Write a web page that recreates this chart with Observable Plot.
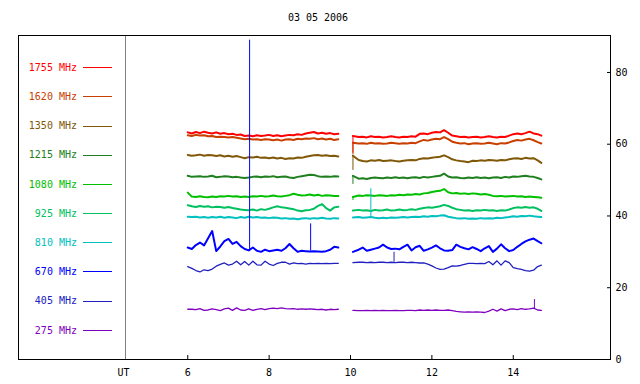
<!DOCTYPE html>
<html><head><meta charset="utf-8">
<script src="https://cdn.jsdelivr.net/npm/d3@7"></script>
<script src="https://cdn.jsdelivr.net/npm/@observablehq/plot@0.6"></script>
<style>
body{margin:0;background:#fff;}
#wrap{position:relative;width:640px;height:384px;font-family:"DejaVu Sans Mono",monospace;font-size:10px;overflow:hidden;}
#wrap svg{position:absolute;left:0;top:0;}
#title{position:absolute;top:12px;left:0;width:636px;text-align:center;line-height:12px;}
#legendbox{position:absolute;left:18px;top:35px;width:108px;height:325px;box-sizing:border-box;border:1px solid #000;border-right:none;}
.lt{position:absolute;left:0;width:77px;text-align:right;line-height:12px;white-space:pre;}
.ll{position:absolute;left:83px;width:29px;height:1px;}
</style></head>
<body>
<div id="wrap">
  <div id="legendbox"></div>
  <div id="title"></div>
</div>
<script>
const title = "03 05 2006";
const freqs = [1755, 1620, 1350, 1215, 1080, 925, 810, 670, 405, 275];
const colors = ["#ff0000", "#c84000", "#805808", "#208020", "#00c000", "#00c060", "#00c0c0", "#0000ff", "#2020c0", "#8000c0"];
const xTicks = [6, 8, 10, 12, 14];
const yTicks = [0, 20, 40, 60, 80];
const xDomain = [4.47, 16.39];
const yDomain = [0, 90.3];

const t1 = [6.0,6.1,6.2,6.3,6.4,6.5,6.6,6.7,6.8,6.9,
            7.0,7.1,7.2,7.3,7.4,7.5,7.6,7.7,7.8,7.9,
            8.0,8.1,8.2,8.3,8.4,8.5,8.6,8.7,8.8,8.9,
            9.0,9.1,9.2,9.3,9.4,9.5,9.6,9.7];
const t2 = [10.06,10.2,10.3,10.4,10.5,10.6,10.7,10.8,10.9,
            11.0,11.1,11.2,11.3,11.4,11.5,11.6,11.7,11.8,11.9,
            12.0,12.1,12.2,12.3,12.4,12.5,12.6,12.7,12.8,12.9,
            13.0,13.1,13.2,13.3,13.4,13.5,13.6,13.7,13.8,13.9,
            14.0,14.1,14.2,14.3,14.4,14.5,14.6,14.69];

const v1755a = [63.3,63.0,63.4,63.1,63.5,63.2,63.0,63.3,62.9,63.1,
  62.8,62.9,62.6,62.7,62.3,62.4,62.2,62.5,62.3,62.4,
  62.6,62.3,62.5,62.2,62.4,62.6,62.5,62.8,62.6,63.0,
  63.2,63.4,63.0,63.2,62.9,63.1,62.8,62.9];
const v1755b = [62.3,62.0,62.1,61.9,62.2,62.0,62.1,61.9,62.0,
  62.2,62.0,61.9,62.1,62.0,62.2,62.1,62.9,63.0,62.8,
  63.2,63.4,63.3,63.9,63.2,62.4,62.2,62.0,62.1,61.9,
  62.0,62.1,61.9,62.0,62.2,62.0,61.9,62.1,62.0,62.4,
  62.8,63.0,62.8,63.1,63.5,63.0,62.8,62.4];
const v1620a = [62.5,62.3,62.6,62.4,62.5,62.2,62.3,62.0,62.1,62.0,
  61.9,62.0,61.8,61.6,61.4,61.5,61.3,61.4,61.2,61.4,
  61.3,61.1,61.3,61.0,61.3,61.4,61.2,61.5,61.4,61.6,
  61.5,61.7,61.4,61.6,61.3,61.5,61.2,61.4];
const v1620b = [60.4,60.2,60.3,60.1,60.4,60.2,60.3,60.1,60.2,
  60.4,60.3,60.1,60.3,60.2,60.4,60.3,60.8,61.2,61.0,
  61.3,61.5,61.4,62.0,61.4,60.7,60.4,60.2,60.3,60.0,
  60.2,60.3,60.1,60.2,60.4,60.2,60.0,60.3,60.2,60.5,
  60.9,61.2,61.0,61.3,61.5,61.1,60.6,60.2];
const v1350a = [57.0,56.8,56.9,57.1,56.8,57.0,56.9,56.7,56.9,56.6,
  56.8,56.5,56.7,56.4,56.1,56.4,56.3,56.5,56.2,56.3,
  56.1,56.3,56.0,56.2,55.9,56.1,56.0,56.3,56.2,56.5,
  56.7,56.9,57.0,56.8,56.9,56.7,56.8,56.6];
const v1350b = [56.8,55.6,55.3,55.2,55.5,55.4,55.6,55.3,55.4,
  55.5,55.3,55.2,55.4,55.5,55.6,55.5,55.9,56.1,56.0,
  56.2,56.4,56.5,56.9,56.4,55.8,55.5,55.3,55.2,55.0,
  55.4,55.3,55.5,55.4,55.6,55.5,55.4,55.6,55.5,55.8,
  56.0,56.1,55.9,56.2,56.0,56.1,55.5,54.8];
const v1215a = [51.2,50.9,51.0,51.1,50.9,51.0,51.2,50.8,50.9,51.1,
  51.0,50.8,50.9,50.7,50.6,50.7,50.9,51.0,50.8,51.0,
  50.9,51.1,50.8,50.9,51.0,50.7,50.6,50.9,51.1,51.3,
  51.5,51.4,51.1,50.9,51.0,50.9,51.1,51.0];
const v1215b = [51.2,50.4,50.5,50.3,50.6,50.7,50.6,50.5,50.7,
  50.6,50.8,50.6,50.7,50.5,50.7,50.8,50.6,50.9,50.7,
  50.9,51.1,51.2,51.8,51.0,50.7,50.8,50.6,50.5,50.7,
  50.6,50.8,50.6,50.7,50.5,50.7,50.8,50.6,50.9,50.7,
  51.0,50.9,51.1,51.2,51.0,50.9,50.6,50.2];
const v1080a = [46.5,45.4,45.3,45.5,45.3,45.2,45.4,45.3,45.5,45.4,
  45.6,45.4,45.5,45.3,45.4,45.3,45.5,45.4,45.6,45.4,
  45.5,45.7,45.5,45.4,45.6,45.8,46.2,45.9,45.7,45.8,
  46.0,45.7,45.9,45.6,45.8,45.7,45.6,45.6];
const v1080b = [45.3,45.7,45.6,45.8,45.7,45.6,45.8,45.7,45.6,
  45.8,45.7,45.9,45.8,46.0,45.9,46.1,46.0,46.3,46.4,
  46.7,46.9,47.0,47.5,46.6,46.3,46.4,46.2,46.3,46.1,
  46.3,46.2,46.0,46.1,45.9,45.6,45.5,45.6,45.4,45.5,
  45.6,45.4,45.5,45.3,45.4,45.3,45.2,45.1];
const v925a = [43.0,42.7,42.5,42.8,42.6,42.7,42.4,42.6,42.5,42.3,
  42.5,42.2,42.0,41.8,41.7,41.6,41.8,41.5,41.9,41.7,
  42.0,42.4,42.7,42.4,42.3,42.1,41.9,41.5,41.3,41.6,
  41.7,42.0,42.8,43.3,42.2,41.5,42.4,42.6];
const v925b = [41.5,41.7,41.5,41.6,41.4,41.7,41.5,41.6,41.8,
  41.5,41.6,41.8,41.6,41.7,41.9,41.7,42.0,42.2,42.4,
  42.3,42.5,42.7,43.1,42.8,42.3,41.9,41.7,41.5,41.6,
  41.4,41.6,41.5,41.7,41.5,41.6,41.4,41.6,41.5,41.8,
  42.2,42.4,42.3,42.5,42.3,42.4,42.0,41.4];
const v810a = [39.8,39.7,39.8,39.6,39.7,39.5,39.7,39.6,39.8,39.5,
  39.7,39.6,39.4,39.7,39.5,39.8,39.6,39.7,39.5,39.6,
  39.4,39.6,39.5,39.3,39.4,39.2,39.3,39.1,39.3,39.4,
  39.2,39.4,39.3,39.5,39.3,39.2,39.4,39.3];
const v810b = [39.6,39.7,39.5,39.6,39.7,39.5,39.4,39.5,39.4,
  39.6,39.5,39.6,39.7,39.6,39.7,39.8,39.7,39.9,39.8,
  40.0,39.9,40.1,40.2,39.8,39.6,39.4,39.3,39.4,39.2,
  39.3,39.2,39.4,39.3,39.4,39.3,39.5,39.4,39.6,39.7,
  39.9,39.8,40.0,39.9,40.1,39.9,39.8,39.7];
const v670a = [31.2,30.8,31.9,32.6,31.8,33.8,35.8,30.2,31.5,33.0,
  33.6,32.2,32.8,31.6,30.8,30.4,31.2,30.3,30.0,30.6,
  30.2,30.4,30.6,30.3,31.0,32.2,31.0,30.0,30.3,30.2,
  30.1,30.2,30.1,30.0,30.2,30.6,31.4,31.2];
const v670b = [30.0,30.6,31.2,30.3,30.6,30.9,31.2,32.0,31.2,
  30.8,30.9,30.7,31.4,32.0,30.4,31.3,31.7,30.3,30.7,
  31.2,31.8,31.0,30.4,30.3,30.5,32.0,31.4,31.0,30.7,
  31.3,30.8,30.2,31.0,31.6,30.0,30.9,32.1,31.0,30.2,
  30.5,31.4,32.2,32.9,33.4,33.7,33.0,32.4];
const v405a = [25.9,25.4,24.8,24.4,25.0,24.8,25.2,26.0,26.5,26.9,
  26.3,26.6,27.4,26.4,27.3,26.3,27.4,26.4,26.3,27.4,
  26.6,26.2,26.8,27.1,27.1,26.6,26.9,26.7,26.8,26.6,
  26.8,26.7,26.8,26.7,26.8,26.7,26.8,26.8];
const v405b = [27.0,27.1,27.1,27.0,27.1,27.0,27.1,27.1,27.0,
  27.1,27.0,27.1,27.1,27.0,27.1,27.0,26.9,26.9,26.6,
  26.1,25.5,25.1,25.2,25.6,26.1,26.0,26.2,26.5,26.8,
  26.8,26.7,26.8,26.7,27.3,26.4,27.5,26.3,27.5,27.0,
  25.6,25.3,25.1,24.8,24.6,24.9,25.9,26.3];
const v275a = [14.0,14.0,13.9,14.2,13.7,13.8,14.1,13.9,13.6,14.1,
  14.3,13.7,14.4,13.8,13.7,14.1,13.7,14.0,14.2,13.9,
  14.2,14.3,14.2,14.4,14.2,14.1,14.2,14.0,14.1,14.0,
  14.1,14.0,13.9,14.0,13.8,14.0,13.9,14.0];
const v275b = [13.7,13.6,13.6,13.7,13.6,13.7,13.6,13.7,13.6,
  13.6,13.7,13.6,13.6,13.7,13.7,13.6,13.8,13.7,13.8,
  13.7,13.8,13.7,13.7,13.8,13.6,13.4,13.3,13.2,13.3,
  13.2,13.3,13.2,13.1,13.5,14.0,13.5,14.1,13.6,14.0,
  14.1,13.9,14.2,14.0,14.1,14.3,13.8,13.7];

// isolated spikes / segment-start drops
const spikeFreq = [670, 670, 810, 405, 275, 1755, 1620, 1350, 1215, 1080];
const spikeT    = [7.52, 9.02, 10.5, 11.07, 14.52, 10.06, 10.06, 10.06, 10.06, 10.06];
const spikeFrom = [30.4, 30.2, 39.6, 27.1, 14.0, 62.3, 60.4, 56.8, 51.2, 45.3];
const spikeTo   = [89.0, 37.8, 47.6, 29.9, 16.7, 57.5, 57.0, 52.7, 48.8, 44.3];

const seriesA = [v1755a, v1620a, v1350a, v1215a, v1080a, v925a, v810a, v670a, v405a, v275a];
const seriesB = [v1755b, v1620b, v1350b, v1215b, v1080b, v925b, v810b, v670b, v405b, v275b];
const thin = new Set([405, 275]);

const rows = [];
freqs.forEach((f, i) => {
  t1.forEach((t, j) => rows.push({t, v: seriesA[i][j], freq: f, key: f + "a"}));
  t2.forEach((t, j) => rows.push({t, v: seriesB[i][j], freq: f, key: f + "b"}));
});
const spikes = spikeT.map((t, i) => ({t, y1: spikeFrom[i], y2: spikeTo[i], freq: spikeFreq[i]}));

const chart = Plot.plot({
  width: 640, height: 384,
  marginTop: 35, marginBottom: 25, marginLeft: 125, marginRight: 30,
  x: {domain: xDomain},
  y: {domain: yDomain},
  color: {type: "ordinal", domain: freqs, range: colors},
  style: {fontFamily: "DejaVu Sans Mono, monospace", fontSize: "10px", background: "white", color: "black"},
  marks: [
    Plot.line(rows.filter(d => !thin.has(d.freq)), {x: "t", y: "v", z: "key", stroke: "freq", strokeWidth: 2}),
    Plot.line(rows.filter(d => thin.has(d.freq)), {x: "t", y: "v", z: "key", stroke: "freq", strokeWidth: 1.3}),
    Plot.ruleX(spikes, {x: "t", y1: "y1", y2: "y2", stroke: "freq", strokeWidth: 1}),
    Plot.frame({stroke: "black"}),
    Plot.ruleX([xDomain[0]], {stroke: "#808080"}),
    Plot.tickX(xTicks, {x: d => d, insetTop: 320, stroke: "black"}),
    Plot.tickY(yTicks, {y: d => d, insetLeft: 482, stroke: "black"}),
    Plot.axisX({ticks: xTicks, tickSize: 0, tickPadding: 9, label: null, tickFormat: d => String(d)}),
    Plot.axisY({anchor: "right", ticks: yTicks, tickSize: 0, tickPadding: 5, label: null}),
    Plot.text(["UT"], {frameAnchor: "bottom-left", textAnchor: "middle", lineAnchor: "top", dy: 9, dx: -2, text: d => d})
  ]
});

const wrap = document.getElementById("wrap");
wrap.insertBefore(chart, wrap.firstChild);
document.getElementById("title").textContent = title;

freqs.forEach((f, i) => {
  const cy = 67.7 + i * 29.18;
  const t = document.createElement("div");
  t.className = "lt";
  t.style.top = (cy - 5.8) + "px";
  t.style.color = colors[i];
  t.textContent = f + " MHz";
  wrap.appendChild(t);
  const l = document.createElement("div");
  l.className = "ll";
  l.style.top = Math.round(cy - 0.5) + "px";
  l.style.background = colors[i];
  wrap.appendChild(l);
});
</script>
</body></html>
